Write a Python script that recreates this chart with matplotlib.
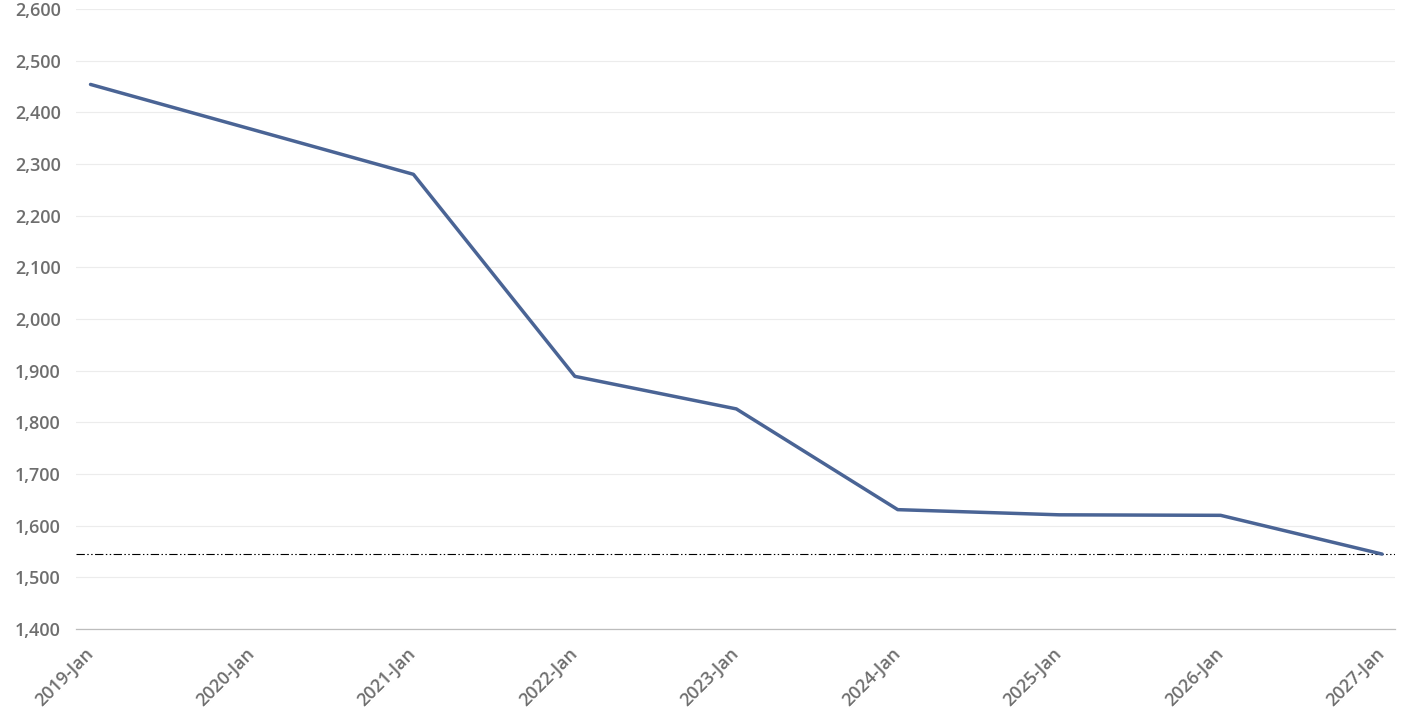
import matplotlib
matplotlib.use("Agg")
import matplotlib.pyplot as plt
import matplotlib.transforms as mtransforms
from matplotlib.ticker import FuncFormatter, MultipleLocator

plt.rcParams['font.family'] = ['Open Sans', 'DejaVu Sans']

# data
periods = ['2019-Jan', '2020-Jan', '2021-Jan', '2022-Jan', '2023-Jan',
           '2024-Jan', '2025-Jan', '2026-Jan', '2027-Jan']
values = [2454, 2367, 2280, 1889, 1826, 1631, 1621, 1620, 1545]
target = 1545

fig = plt.figure(figsize=(14.1, 7.2), dpi=100)
ax = fig.add_axes([76 / 1410, 1 - 629 / 720, (1395 - 76) / 1410, (629 - 9) / 720])

x = list(range(len(periods)))
ax.plot(x, values, color='#4a6495', linewidth=2.5, solid_capstyle='round', zorder=3)
ax.axhline(target, color='black', linewidth=0.8,
           dashes=(7.5, 2.2, 1.3, 2.2, 1.3, 2.2), zorder=2)

ax.set_ylim(1400, 2600)
ax.set_xlim(-0.09, len(periods) - 1 + 0.08)
ax.yaxis.set_major_locator(MultipleLocator(100))
ax.yaxis.set_major_formatter(FuncFormatter(lambda v, p: f'{int(v):,}'))
ax.grid(axis='y', color='#ececec', linewidth=0.8)
ax.set_axisbelow(True)

for s in ['top', 'right', 'left']:
    ax.spines[s].set_visible(False)
ax.spines['bottom'].set_color('#bdbdbd')
ax.spines['bottom'].set_linewidth(0.9)

ax.set_xticks(x)
ax.set_xticklabels(periods, rotation=45, ha='right', rotation_mode='anchor')
ax.tick_params(axis='both', length=0, labelsize=13, labelcolor='#6e6e6e')
ax.tick_params(axis='y', pad=11)
ax.tick_params(axis='x', pad=10)

shift = mtransforms.ScaledTranslation(-7 / 100, -1 / 100, fig.dpi_scale_trans)
for lab in ax.get_xticklabels():
    lab.set_transform(lab.get_transform() + shift)
for lab in ax.get_xticklabels() + ax.get_yticklabels():
    lab.set_fontweight('semibold')

fig.savefig('out.png', dpi=100)
